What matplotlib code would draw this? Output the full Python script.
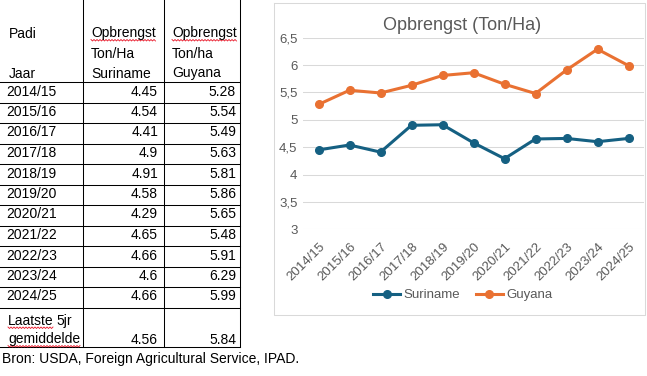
import matplotlib
matplotlib.use('Agg')
import matplotlib.pyplot as plt
import numpy as np

# data
jaren = ['2014/15', '2015/16', '2016/17', '2017/18', '2018/19', '2019/20',
         '2020/21', '2021/22', '2022/23', '2023/24', '2024/25']
suriname = [4.45, 4.54, 4.41, 4.9, 4.91, 4.58, 4.29, 4.65, 4.66, 4.6, 4.66]
guyana = [5.28, 5.54, 5.49, 5.63, 5.81, 5.86, 5.65, 5.48, 5.91, 6.29, 5.99]
gem_suriname = 4.56
gem_guyana = 5.84
y_ticks = [3, 3.5, 4, 4.5, 5, 5.5, 6, 6.5]
y_labels = ['3', '3,5', '4', '4,5', '5', '5,5', '6', '6,5']

plt.rcParams['font.family'] = ['Liberation Sans', 'DejaVu Sans']

W, H = 647, 376
fig = plt.figure(figsize=(W / 100, H / 100), dpi=100)

# pixel overlay for the table, source and chart frame
bg = fig.add_axes([0, 0, 1, 1])
bg.set_xlim(0, W)
bg.set_ylim(H, 0)
bg.axis('off')

lw_px = 0.75
col_x = [83, 164, 240]
row_top = 82
row_h = 20.5
n = len(jaren)
row_lines = [row_top + k * row_h for k in range(n + 1)] + [347]
for x in col_x:
    bg.plot([x, x], [0, 347], color='black', lw=lw_px)
for y in row_lines:
    bg.plot([0, 240], [y, y], color='black', lw=lw_px)

fs = 10
underlined = []
# header
bg.text(9, 37.5, 'Padi', fontsize=fs, va='baseline')
bg.text(9, 77.5, 'Jaar', fontsize=fs, va='baseline')
t = bg.text(91, 37.5, 'Opbrengst', fontsize=fs, va='baseline')
underlined.append((t, 37.5))
bg.text(91, 57.5, 'Ton/Ha', fontsize=fs, va='baseline')
bg.text(91, 77.5, 'Suriname', fontsize=fs, va='baseline')
t = bg.text(172, 37.5, 'Opbrengst', fontsize=fs, va='baseline')
underlined.append((t, 37.5))
bg.text(172, 57.5, 'Ton/ha', fontsize=fs, va='baseline')
bg.text(172, 77.5, 'Guyana', fontsize=fs, va='baseline')

# rows
for i, (j, s, g) in enumerate(zip(jaren, suriname, guyana)):
    yb = row_top + i * row_h + 13.5
    bg.text(6, yb, j, fontsize=fs, va='baseline')
    bg.text(158, yb, str(s), fontsize=fs, va='baseline', ha='right')
    bg.text(236, yb, str(g), fontsize=fs, va='baseline', ha='right')

t_laatste = bg.text(8, 325, 'Laatste', fontsize=fs, va='baseline')
underlined.append((t_laatste, 325))
t = bg.text(8, 343.5, 'gemiddelde', fontsize=fs, va='baseline')
underlined.append((t, 343.5))
bg.text(158, 343.5, str(gem_suriname), fontsize=fs, va='baseline', ha='right')
bg.text(236, 343.5, str(gem_guyana), fontsize=fs, va='baseline', ha='right')

bg.text(1.5, 363.5, 'Bron: USDA, Foreign Agricultural Service, IPAD.',
        fontsize=10, va='baseline')

# chart frame
bg.plot([274, 645, 645, 274, 274], [3, 3, 315, 315, 3], color='#D9D9D9', lw=0.75)
bg.text(462, 25, 'Opbrengst (Ton/Ha)', fontsize=13, color='#595959',
        ha='center', va='center')

# chart
ax = fig.add_axes([303 / W, 1 - 229.3 / H, (644 - 303) / W, (229.3 - 37.7) / H])
ax.set_facecolor('none')
x = np.arange(n)
ax.plot(x, suriname, color='#156082', lw=2.2, marker='o', ms=5.5, label='Suriname', zorder=3)
ax.plot(x, guyana, color='#E97132', lw=2.2, marker='o', ms=5.5, label='Guyana', zorder=3)
ax.set_xlim(-0.5, n - 0.5)
ax.set_ylim(3, 6.5)
ax.set_yticks(y_ticks)
ax.set_yticklabels(y_labels)
ax.set_xticks(x)
ax.set_xticklabels(jaren, rotation=45, ha='right', rotation_mode='anchor')
ax.tick_params(length=0, labelsize=9.5, colors='#595959', pad=8)
ax.tick_params(axis='y', pad=4)
ax.grid(axis='y', color='#D9D9D9', lw=0.75)
ax.set_axisbelow(True)
for sp in ax.spines.values():
    sp.set_visible(False)

fig.legend(loc='center', bbox_to_anchor=(463 / W, 1 - 295 / H), ncol=2,
           frameon=False, fontsize=9.5, labelcolor='#595959', handlelength=2.0,
           handletextpad=0.3, columnspacing=1.2)

# red spell-check squiggles, and "5jr" after "Laatste"
fig.canvas.draw()
r = fig.canvas.get_renderer()
bb = t_laatste.get_window_extent(r)
bg.text(bb.x1 + 3, 325, '5jr', fontsize=fs, va='baseline')
for t, yb in underlined:
    bb = t.get_window_extent(r)
    xs = np.arange(bb.x0, bb.x1, 1.5)
    ys = yb + 2 + (np.arange(len(xs)) % 2) * 1.5
    bg.plot(xs, ys, color='#E81123', lw=0.6)

fig.savefig('out.png', dpi=100)
